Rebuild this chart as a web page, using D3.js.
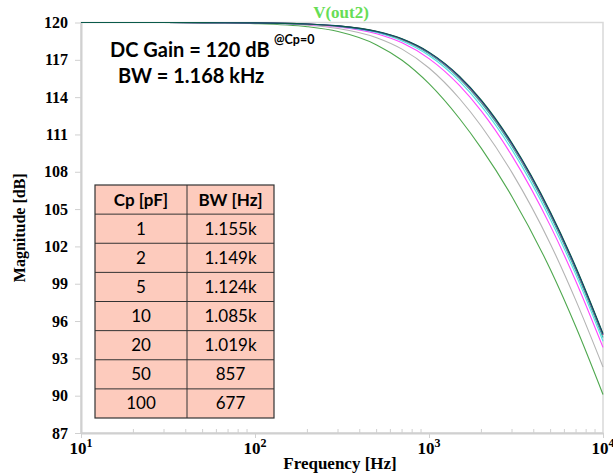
<!DOCTYPE html>
<html>
<head>
<meta charset="utf-8">
<script src="https://cdn.jsdelivr.net/npm/d3@7"></script>
<style>
  body { margin: 0; background: #fff; }
  svg { display: block; }
</style>
</head>
<body>
<svg id="chart" width="613" height="475"></svg>
<script>
var freqs = [10, 20, 50, 100, 200, 300, 500, 700, 1000, 1500, 2000, 3000, 5000, 7000, 10000];

// Magnitude [dB] per Cp step
var magCp0   = [120, 120, 119.99, 119.97, 119.88, 119.73, 119.29, 118.69, 117.62, 115.67, 113.76, 110.31, 104.73, 100.31, 95.0];
var magCp1   = [120, 120, 119.99, 119.97, 119.88, 119.73, 119.27, 118.67, 117.58, 115.61, 113.69, 110.23, 104.64, 100.22, 94.92];
var magCp2   = [120, 120, 119.99, 119.97, 119.88, 119.72, 119.27, 118.65, 117.56, 115.58, 113.66, 110.20, 104.60, 100.18, 94.88];
var magCp5   = [120, 120, 119.99, 119.97, 119.87, 119.71, 119.24, 118.61, 117.48, 115.47, 113.52, 110.03, 104.42, 99.99, 94.68];
var magCp10  = [120, 120, 119.99, 119.96, 119.86, 119.69, 119.19, 118.52, 117.35, 115.27, 113.28, 109.76, 104.13, 99.69, 94.38];
var magCp20  = [120, 120, 119.99, 119.96, 119.84, 119.65, 119.10, 118.37, 117.10, 114.92, 112.87, 109.28, 103.61, 99.16, 93.88];
var magCp50  = [120, 120, 119.99, 119.94, 119.78, 119.52, 118.78, 117.86, 116.34, 113.87, 111.66, 107.93, 102.16, 97.62, 92.3];
var magCp100 = [120, 120, 119.98, 119.91, 119.66, 119.27, 118.20, 116.96, 115.08, 112.26, 109.88, 106.00, 100.10, 95.5, 90.1];

var seriesNames  = ["0", "1", "2", "5", "10", "20", "50", "100"];
var seriesColors = ["#0a5a4a", "#2a3fc4", "#f04040", "#2bb5a5", "#55e0e6", "#ff44ff", "#b4b4b4", "#4fa84f"];
var seriesValues = [magCp0, magCp1, magCp2, magCp5, magCp10, magCp20, magCp50, magCp100];

// Table values
var tableHeader = ["Cp [pF]", "BW [Hz]"];
var tableCp = ["1", "2", "5", "10", "20", "50", "100"];
var tableBW = ["1.155k", "1.149k", "1.124k", "1.085k", "1.019k", "857", "677"];

var yTicks = [87, 90, 93, 96, 99, 102, 105, 108, 111, 114, 117, 120];
var xMajor = [10, 100, 1000, 10000];
var xExp = ["1", "2", "3", "4"];

var plotL = 81, plotR = 603, plotT = 22.5, plotB = 433;

var svg = d3.select("#chart");

var x = d3.scaleLog().domain([10, 10000]).range([plotL, plotR]);
var y = d3.scaleLinear().domain([87, 120]).range([plotB, plotT]);

// plot frame
svg.append("rect")
  .attr("x", plotL).attr("y", plotT)
  .attr("width", plotR - plotL).attr("height", plotB - plotT)
  .attr("fill", "none").attr("stroke", "#d9d9d9").attr("stroke-width", 1.5);

// Y axis
var yAxis = svg.append("g")
  .attr("transform", "translate(" + plotL + ",0)")
  .call(d3.axisLeft(y).tickValues(yTicks).tickSize(6).tickPadding(7).tickSizeOuter(0));
yAxis.select(".domain").attr("stroke", "#d0d0d0").attr("stroke-width", 2);
yAxis.selectAll(".tick line").attr("stroke", "#d0d0d0");
yAxis.selectAll(".tick text")
  .style("font-family", "'Liberation Serif', serif")
  .style("font-weight", "bold").style("font-size", "16px").attr("fill", "#000");

// X axis
var minor = [];
for (var d = 10; d < 10000; d *= 10) {
  for (var k = 2; k <= 9; k++) minor.push(d * k);
}
var xAxis = svg.append("g")
  .attr("transform", "translate(0," + plotB + ")")
  .call(d3.axisBottom(x).tickValues(xMajor).tickSize(5).tickFormat("").tickSizeOuter(0));
xAxis.select(".domain").attr("stroke", "#d0d0d0").attr("stroke-width", 2);
xAxis.selectAll(".tick line").attr("stroke", "#d0d0d0");

svg.append("g").selectAll("line").data(minor).enter().append("line")
  .attr("x1", function (d) { return x(d); })
  .attr("x2", function (d) { return x(d); })
  .attr("y1", plotB).attr("y2", plotB - 4)
  .attr("stroke", "#d0d0d0");

var xl = svg.append("g").selectAll("text").data(xMajor).enter().append("text")
  .attr("x", function (d) { return x(d); })
  .attr("y", plotB + 21)
  .attr("text-anchor", "middle")
  .style("font-family", "'Liberation Serif', serif")
  .style("font-weight", "bold").style("font-size", "17px");
xl.append("tspan").text("10");
xl.append("tspan").attr("dy", -7).style("font-size", "12px")
  .text(function (d, i) { return xExp[i]; });

// axis titles
svg.append("text")
  .attr("x", 340).attr("y", 469)
  .attr("text-anchor", "middle")
  .style("font-family", "'Liberation Serif', serif")
  .style("font-weight", "bold").style("font-size", "17px")
  .text("Frequency [Hz]");

svg.append("text")
  .attr("transform", "translate(25," + ((plotT + plotB) / 2) + ") rotate(-90)")
  .attr("text-anchor", "middle")
  .style("font-family", "'Liberation Serif', serif")
  .style("font-weight", "bold").style("font-size", "16px")
  .text("Magnitude [dB]");

// trace name
svg.append("text")
  .attr("x", 341).attr("y", 18)
  .attr("text-anchor", "middle")
  .style("font-family", "'Liberation Serif', serif")
  .style("font-weight", "bold").style("font-size", "17px")
  .attr("fill", "#66dd55")
  .text("V(out2)");

// curves
var line = d3.line()
  .x(function (d) { return x(d[0]); })
  .y(function (d) { return y(d[1]); })
  .curve(d3.curveMonotoneX);

var order = d3.range(seriesValues.length).reverse();
svg.append("g").selectAll("path").data(order).enter().append("path")
  .attr("d", function (i) {
    return line(freqs.map(function (f, j) { return [f, seriesValues[i][j]]; }));
  })
  .attr("fill", "none")
  .attr("stroke", function (i) { return seriesColors[i]; })
  .attr("stroke-width", 1.1);

// annotation
svg.append("text")
  .attr("x", 110).attr("y", 57)
  .style("font-family", "Lato, sans-serif")
  .style("font-weight", "bold").style("font-size", "20px")
  .text("DC Gain = 120 dB");
svg.append("text")
  .attr("x", 274).attr("y", 44)
  .style("font-family", "Lato, sans-serif")
  .style("font-weight", "bold").style("font-size", "12.5px")
  .text("@Cp=0");

svg.append("text")
  .attr("x", 118).attr("y", 83)
  .style("font-family", "Lato, sans-serif")
  .style("font-weight", "bold").style("font-size", "20px")
  .text("BW = 1.168 kHz");

// table
var tx0 = 95, tx1 = 187, tx2 = 274, ty0 = 185, rowH = (418 - 185) / 8;
var rows = [tableHeader].concat(tableCp.map(function (c, i) { return [c, tableBW[i]]; }));

var tbl = svg.append("g");
tbl.append("rect")
  .attr("x", tx0).attr("y", ty0)
  .attr("width", tx2 - tx0).attr("height", rowH * rows.length)
  .attr("fill", "#fdcbbd").attr("stroke", "#333").attr("stroke-width", 1.2);
for (var r = 1; r < rows.length; r++) {
  tbl.append("line")
    .attr("x1", tx0).attr("x2", tx2)
    .attr("y1", ty0 + r * rowH).attr("y2", ty0 + r * rowH)
    .attr("stroke", "#333").attr("stroke-width", 1);
}
tbl.append("line")
  .attr("x1", tx1).attr("x2", tx1)
  .attr("y1", ty0).attr("y2", ty0 + rowH * rows.length)
  .attr("stroke", "#333").attr("stroke-width", 1);

rows.forEach(function (row, r) {
  row.forEach(function (cell, c) {
    tbl.append("text")
      .attr("x", c === 0 ? (tx0 + tx1) / 2 : (tx1 + tx2) / 2)
      .attr("y", ty0 + r * rowH + rowH / 2 + 6)
      .attr("text-anchor", "middle")
      .style("font-family", "Lato, sans-serif")
      .style("font-weight", r === 0 ? "bold" : "normal")
      .style("font-size", "17px")
      .text(cell);
  });
});
</script>
</body>
</html>
